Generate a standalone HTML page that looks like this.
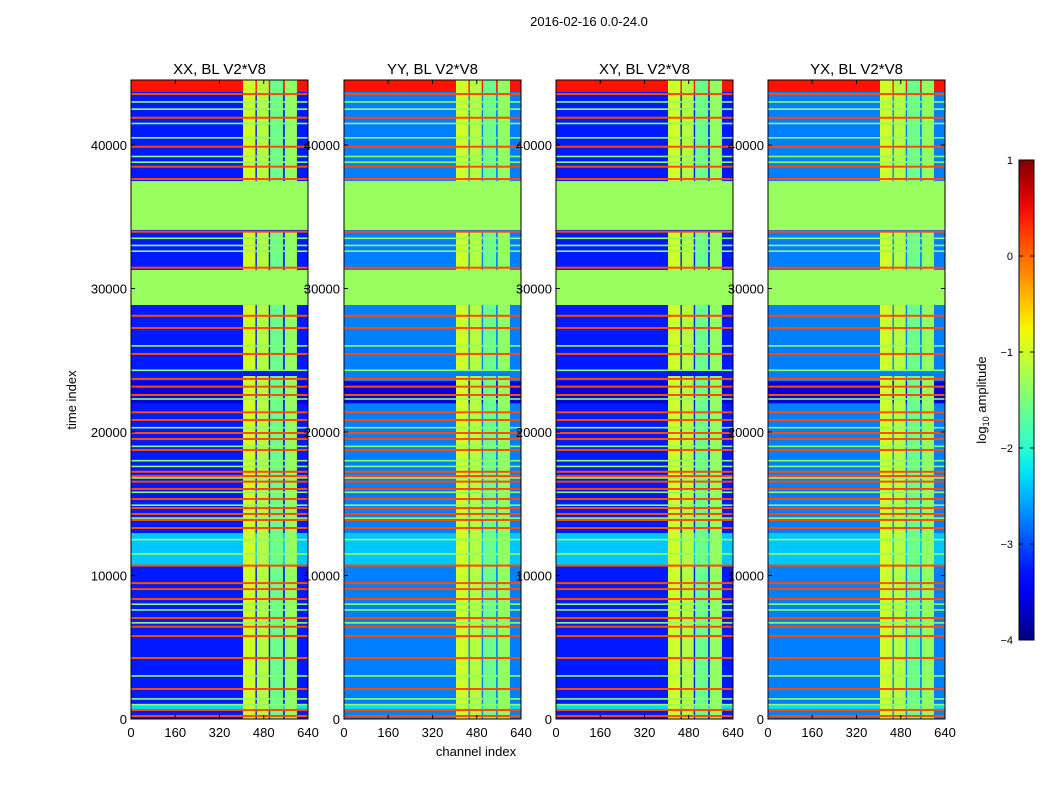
<!DOCTYPE html>
<html><head><meta charset="utf-8"><style>
body{margin:0;background:#fff;}
svg text{font-family:"Liberation Sans",sans-serif;}
</style></head><body>
<svg id="fig" width="1050" height="800" xmlns="http://www.w3.org/2000/svg">
<text x="589" y="26" font-size="13" text-anchor="middle">2016-02-16 0.0-24.0</text>
</svg>
<script>
// ---- data ----
const panelTitles = ["XX, BL V2*V8","YY, BL V2*V8","XY, BL V2*V8","YX, BL V2*V8"];
const bgLevel = [-3.25, -2.75, -3.25, -2.75];
const xTicks = [0,160,320,480,640];
const yTicks = [0,10000,20000,30000,40000];
const cbTicks = [1,0,-1,-2,-3,-4];
// horizontal bands: start time, end time, log amplitude
const bandStart = [28850, 34080, 10730, 560, 22000, 43700];
const bandEnd   = [31290, 37490, 12960, 1050, 23550, 44500];
const bandLevel = [-1.32, -1.32, -2.4, -2.3, -3.6, 0.45];
// RFI channel columns
const colStart = [405, 455, 503, 556];
const colEnd   = [450, 498, 550, 600];
const colLevel = [-1.0, -1.15, -1.6, -1.35];
// time ranges where columns appear
const colTStart = [0, 24300, 31290, 37490];
const colTEnd   = [23900, 28850, 33960, 44500];
// red / orange lines (time), green lines (time)
const redLines = [43550,41900,39880,38490,37630,33960,31450,28100,27250,25440,23700,23160,22580,21370,20840,19930,19510,18750,17230,16930,16540,16030,15330,14700,14290,13870,13310,10690,9470,9050,8360,7040,6430,5780,4250,2090,630,210];
const greenLines = [43000,42500,41500,40500,39200,38800,33500,33000,32600,26000,24300,22300,20300,19000,18000,17600,16800,15800,14900,14000,12500,11500,8000,7600,6700,3000,1400,1000];

// ---- geometry ----
const panelX = [131,344,556,768], panelW = 177, pTop = 80, pBot = 719;
const tMax = 44530, chMax = 640;
const ty = t => pBot - (t/tMax)*(pBot-pTop);
const NS = "http://www.w3.org/2000/svg";
const svg = document.getElementById('fig');
function seg(x, pts){
  for (let i=1;i<pts.length;i++){
    if (x <= pts[i][0]) { const a=pts[i-1], b=pts[i]; return a[1]+(b[1]-a[1])*(x-a[0])/(b[0]-a[0]); }
  }
  return pts[pts.length-1][1];
}
function jet(v){ // v in [-4,1], matplotlib jet
  const x = Math.max(0,Math.min(1,(v+4)/5));
  const r = seg(x,[[0,0],[0.35,0],[0.66,1],[0.89,1],[1,0.5]]);
  const g = seg(x,[[0,0],[0.125,0],[0.375,1],[0.64,1],[0.91,0],[1,0]]);
  const b = seg(x,[[0,0.5],[0.11,1],[0.34,1],[0.65,0],[1,0]]);
  return `rgb(${Math.round(r*255)},${Math.round(g*255)},${Math.round(b*255)})`;
}
function mk(tag, attrs, parent){
  const e = document.createElementNS(NS, tag);
  for (const k in attrs) e.setAttribute(k, attrs[k]);
  (parent||svg).appendChild(e); return e;
}
panelTitles.forEach((title, p) => {
  const x0 = panelX[p];
  const cx = c => x0 + c/chMax*panelW;
  const g = mk('g', {});
  
  
  const bg = mk('rect', {x:x0,y:pTop,width:panelW,height:pBot-pTop,fill:jet(bgLevel[p])}, g);
  
  
  bandStart.forEach((s,i) => {
    const r = mk('rect', {x:x0,y:ty(bandEnd[i]),width:panelW,height:ty(s)-ty(bandEnd[i]),fill:jet(bandLevel[i])}, g);
    
    
  });
  colTStart.forEach((ts,j) => {
    colStart.forEach((c,i) => {
      const r = mk('rect', {x:cx(c),y:ty(colTEnd[j]),width:cx(colEnd[i])-cx(c),height:ty(ts)-ty(colTEnd[j]),fill:jet(colLevel[i])}, g);
      
      
    });
  });
  greenLines.forEach(t => {
    const r = mk('rect', {x:x0,y:ty(t)-0.8,width:panelW,height:1.6,fill:jet(-1.4)}, g);
    
    
  });
  redLines.forEach(t => {
    const r = mk('rect', {x:x0,y:ty(t)-1,width:panelW,height:2,fill:jet(0.15)}, g);
    
    
  });
  const fr = mk('rect', {x:x0,y:pTop,width:panelW,height:pBot-pTop,fill:'none',stroke:'#000','stroke-width':1}, g);
  
  
  const tt = mk('text', {x:x0+panelW/2,y:74,'font-size':15,'text-anchor':'middle'}, g);
  tt.textContent = title;
  
  
  xTicks.forEach(v => {
    const x = cx(v);
    mk('line',{x1:x,x2:x,y1:pBot,y2:pBot-4,stroke:'#000'},g);
    mk('line',{x1:x,x2:x,y1:pTop,y2:pTop+4,stroke:'#000'},g);
    const t = mk('text',{x:x,y:737,'font-size':13,'text-anchor':'middle'},g);
    t.textContent = v;
    
    
  });
  yTicks.forEach(v => {
    const y = ty(v);
    mk('line',{x1:x0,x2:x0+4,y1:y,y2:y,stroke:'#000'},g);
    mk('line',{x1:x0+panelW,x2:x0+panelW-4,y1:y,y2:y,stroke:'#000'},g);
    const t = mk('text',{x:x0-4,y:y+5,'font-size':13,'text-anchor':'end'},g);
    t.textContent = v;
    
    
  });
});
const yl = mk('text',{x:76,y:400,'font-size':13,'text-anchor':'middle',transform:'rotate(-90 76 400)'});
yl.textContent = 'time index';


const xl = mk('text',{x:476,y:756,'font-size':13,'text-anchor':'middle'});
xl.textContent = 'channel index';


// colorbar
const defs = mk('defs',{});
const lg = mk('linearGradient',{id:'jetg',x1:0,y1:1,x2:0,y2:0},defs);
for (let i=0;i<=20;i++){ mk('stop',{offset:i/20,'stop-color':jet(-4+i*0.25)},lg); }
const cbTop=160, cbBot=640, cbX=1019, cbW=15;
const cb = mk('rect',{x:cbX,y:cbTop,width:cbW,height:cbBot-cbTop,fill:'url(#jetg)',stroke:'#000'});


cbTicks.forEach(v => {
  const y = cbBot - (v+4)/5*(cbBot-cbTop);
  mk('line',{x1:cbX,x2:cbX+4,y1:y,y2:y,stroke:'#000'});
  mk('line',{x1:cbX+cbW,x2:cbX+cbW-4,y1:y,y2:y,stroke:'#000'});
  const t = mk('text',{x:1013,y:y+4,'font-size':11,'text-anchor':'end'});
  t.textContent = v<0 ? '\u2212'+(-v) : v;
  
  
});
const cl = mk('text',{x:986,y:400,'font-size':13,'text-anchor':'middle',transform:'rotate(-90 986 400)'});
cl.innerHTML = 'log<tspan font-size="9" dy="3">10</tspan><tspan dy="-3"> amplitude</tspan>';


</script>
</body></html>
